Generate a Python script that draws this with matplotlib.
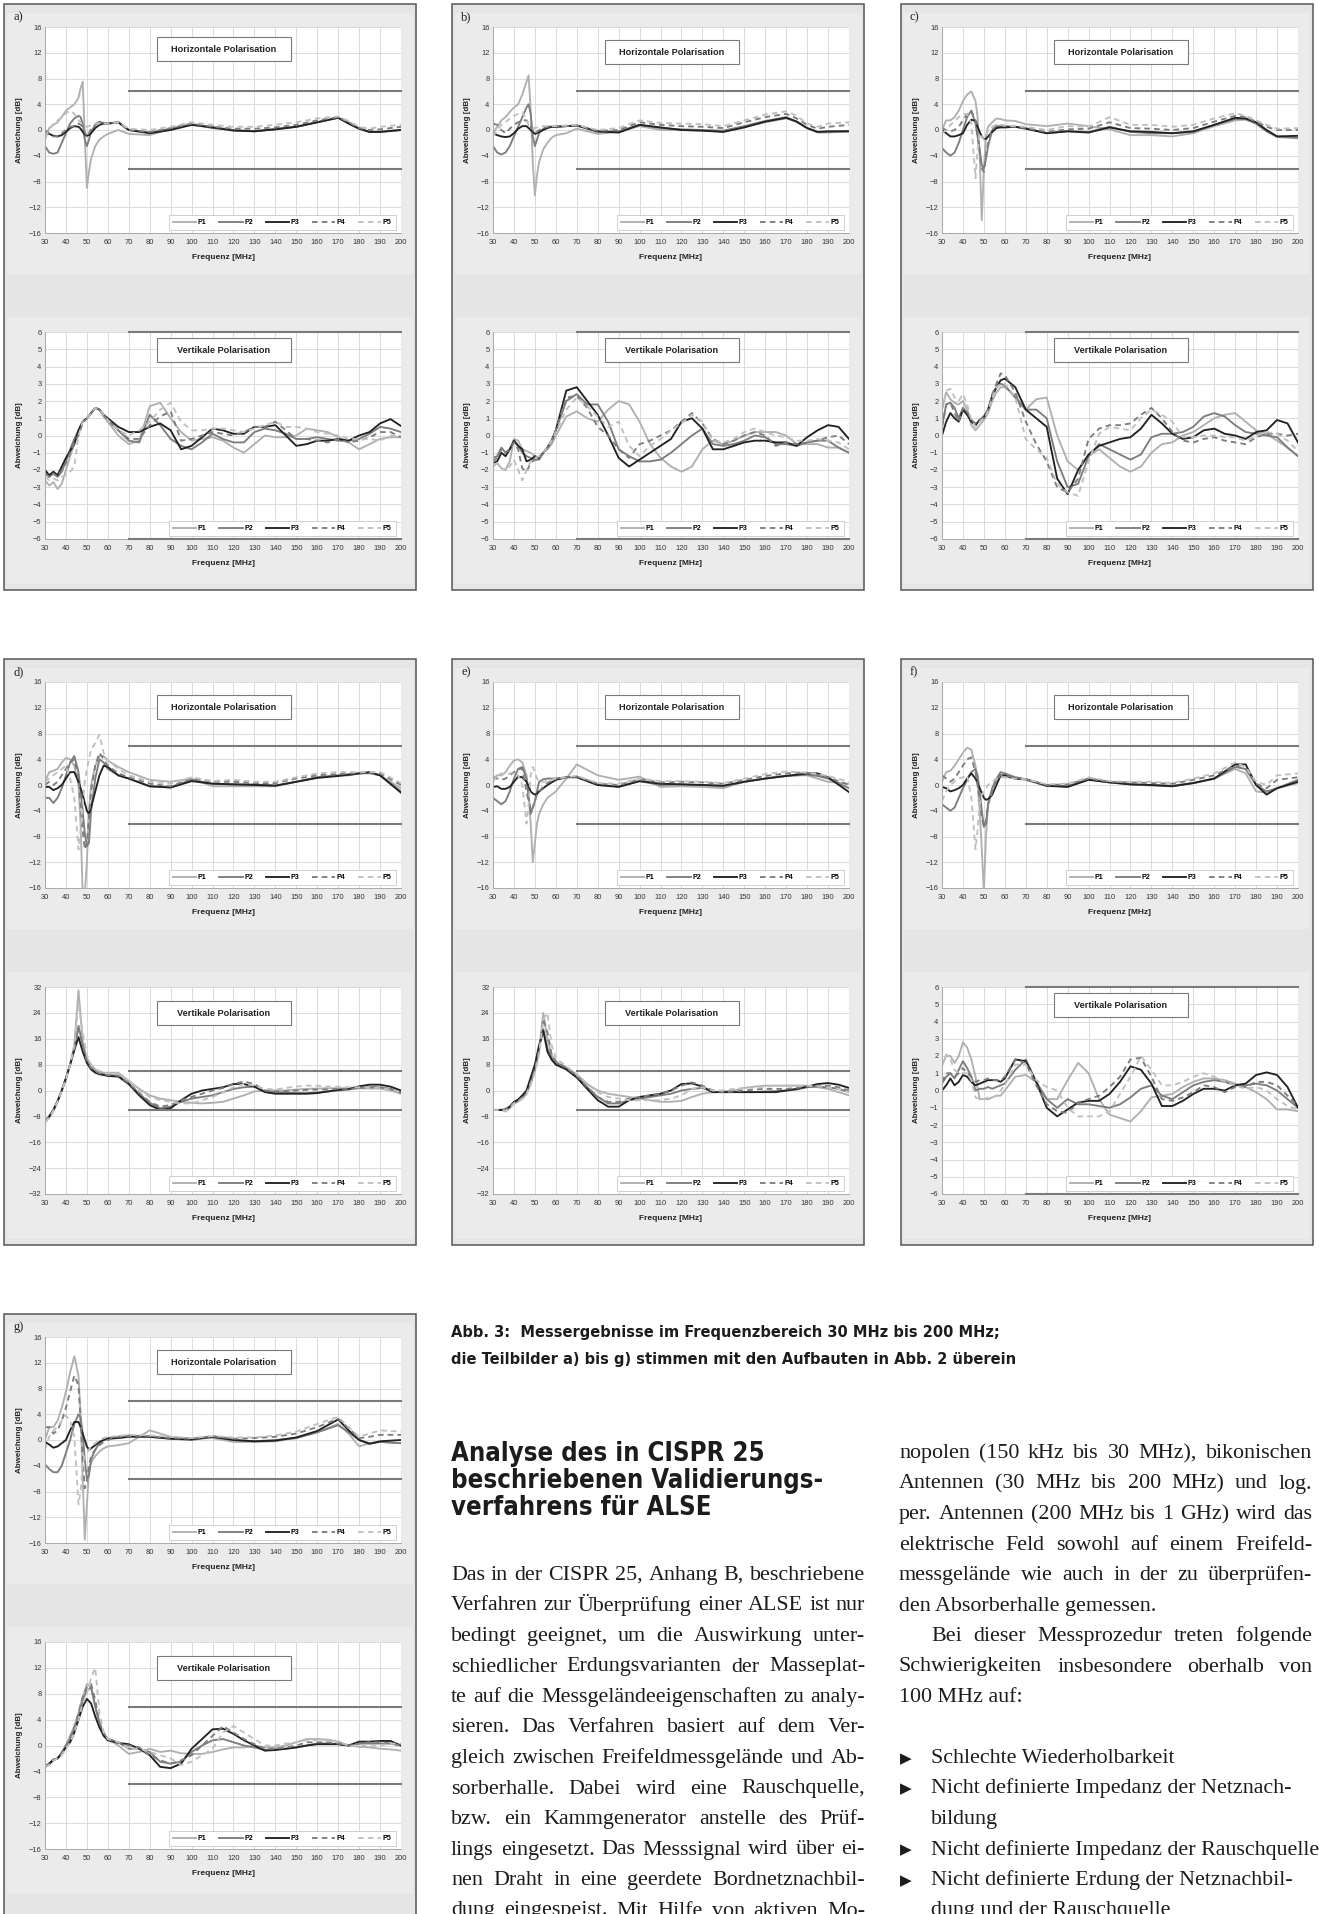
import numpy as np
import matplotlib
matplotlib.use('Agg')
import matplotlib.pyplot as plt
from matplotlib.patches import Rectangle
from matplotlib import font_manager
from matplotlib.font_manager import FontProperties

W, H = 1319, 1914

# frequency grids (MHz)
FH = [30, 32, 34, 36, 38, 40, 42, 44, 46, 47, 48, 49, 50, 51, 52, 54, 56, 58, 60,
      65, 70, 80, 90, 100, 110, 120, 130, 140, 150, 160, 170, 175, 180, 185, 190, 200]
FV = [30, 32, 34, 36, 38, 40, 42, 44, 46, 48, 50, 52, 54, 56, 58, 60,
      65, 70, 75, 80, 85, 90, 95, 100, 105, 110, 115, 120, 125, 130, 135, 140,
      145, 150, 155, 160, 165, 170, 175, 180, 185, 190, 195, 200]

# ---- a) ----
A_H_P1 = [-1.5, 0.3, 0.8, 1.2, 2.0, 3.0, 3.5, 4.0, 5.0, 6.5, 7.5, -1.0, -9.0, -6.5, -4.5, -2.5, -1.5, -1.0, -0.6,
          0.0, -0.6, -0.8, 0.2, 0.8, 0.5, 0.0, -0.2, 0.2, 0.5, 1.2, 1.9, 1.2, 0.3, -0.3, -0.2, 0.0]
A_H_P2 = [-2.5, -3.5, -3.7, -3.5, -2.0, -0.5, 1.0, 1.8, 2.2, 2.0, 1.0, -1.5, -2.5, -1.5, -0.3, 0.8, 1.3, 1.0, 1.0,
          1.2, 0.0, -0.4, 0.2, 0.9, 0.3, 0.0, -0.2, 0.1, 0.5, 1.2, 1.9, 1.0, 0.2, -0.3, -0.3, 0.0]
A_H_P3 = [-0.3, -0.6, -0.9, -1.0, -0.8, -0.3, 0.3, 0.6, 0.5, 0.2, -0.3, -0.7, -0.9, -0.8, -0.5, 0.3, 0.8, 1.0, 1.0,
          1.2, 0.0, -0.5, 0.0, 0.8, 0.4, -0.1, -0.2, 0.1, 0.5, 1.2, 1.9, 1.0, 0.2, -0.3, -0.3, 0.0]
A_H_P4 = [0.0, -0.5, -1.0, -1.0, -0.5, 0.0, 0.5, 0.6, 1.0, 0.8, 0.5, -0.3, -1.0, -0.5, 0.2, 0.8, 1.3, 1.1, 1.1,
          1.1, 0.0, -0.3, 0.3, 1.0, 0.5, 0.2, 0.2, 0.4, 0.8, 1.5, 2.0, 1.2, 0.3, 0.0, 0.1, 0.5]
A_H_P5 = [-1.0, 0.0, 1.0, 1.5, 2.0, 2.6, 3.0, 2.5, 1.5, 1.2, 0.8, 0.6, 0.5, 0.6, 0.8, 1.0, 1.0, 1.0, 1.0,
          1.2, 0.2, 0.0, 0.5, 1.2, 0.8, 0.5, 0.5, 0.8, 1.2, 1.8, 2.1, 1.4, 0.5, 0.2, 0.5, 0.8]

A_V_P1 = [-2.6, -2.9, -2.7, -3.1, -2.8, -2.0, -1.2, -0.5, 0.3, 0.8, 1.0, 1.3, 1.6, 1.5, 1.1, 0.8,
          0.0, -0.5, -0.3, 1.7, 1.9, 1.0, 0.2, -0.3, -0.2, -0.1, -0.3, -0.7, -1.0, -0.5, 0.0, -0.1,
          -0.1, 0.0, 0.4, 0.3, 0.2, -0.1, -0.4, -0.8, -0.5, -0.2, -0.1, -0.1]
A_V_P2 = [-2.1, -2.4, -2.2, -2.4, -2.1, -1.5, -0.8, -0.2, 0.3, 0.8, 1.0, 1.3, 1.6, 1.5, 1.2, 0.9,
          0.3, -0.3, -0.4, 1.2, 0.6, -0.2, -0.6, -0.8, -0.4, 0.1, -0.2, -0.4, -0.4, 0.2, 0.4, 0.3,
          0.1, -0.2, -0.2, -0.1, -0.2, -0.3, -0.3, -0.2, 0.1, 0.5, 0.4, 0.2]
A_V_P3 = [-2.0, -2.3, -2.1, -2.3, -1.8, -1.3, -0.9, -0.5, 0.3, 0.8, 1.0, 1.3, 1.6, 1.5, 1.2, 1.0,
          0.5, 0.2, 0.2, 0.5, 0.7, 0.3, -0.8, -0.6, -0.1, 0.4, 0.3, 0.1, 0.1, 0.5, 0.5, 0.6,
          0.0, -0.6, -0.5, -0.3, -0.3, -0.2, -0.3, 0.0, 0.2, 0.7, 0.95, 0.55]
A_V_P4 = [-2.2, -2.4, -2.2, -2.4, -2.0, -1.6, -1.0, -0.4, 0.0, 0.7, 1.0, 1.3, 1.6, 1.5, 1.2, 0.9,
          0.3, -0.2, -0.2, 0.6, 1.1, 1.4, -0.3, -0.2, 0.0, 0.2, 0.1, 0.0, 0.2, 0.5, 0.5, 0.8,
          0.3, -0.2, -0.2, -0.3, -0.4, -0.2, -0.4, -0.3, -0.1, 0.2, 0.2, -0.1]
A_V_P5 = [-2.4, -2.6, -2.5, -2.6, -2.4, -2.3, -2.1, -1.8, 0.0, 0.8, 1.0, 1.3, 1.6, 1.5, 1.2, 0.9,
          0.3, 0.0, 0.3, 0.8, 1.5, 1.9, 0.8, 0.3, 0.3, 0.4, 0.4, 0.3, 0.2, 0.4, 0.6, 0.8,
          0.5, 0.5, 0.4, 0.2, 0.1, 0.0, -0.2, -0.2, -0.2, -0.3, 0.0, 0.0]

# ---- b) ----
B_H_P1 = [-0.5, 0.5, 1.5, 2.0, 2.8, 3.5, 4.0, 5.5, 7.5, 8.5, 3.0, -5.0, -10.2, -7.0, -5.0, -3.0, -2.0, -1.2, -0.8,
          -0.5, 0.2, -0.6, -0.3, 0.6, 0.0, 0.0, -0.1, -0.2, 0.5, 1.2, 1.8, 1.3, 0.3, -0.4, -0.4, -0.2]
B_H_P2 = [-2.5, -3.5, -3.8, -3.5, -2.5, -1.0, 0.5, 2.0, 3.5, 4.0, 2.5, -1.0, -2.5, -1.5, -0.5, 0.2, 0.5, 0.5, 0.5,
          0.6, 0.7, -0.3, -0.2, 0.8, 0.3, 0.1, 0.0, -0.1, 0.6, 1.4, 2.0, 1.3, 0.3, -0.3, -0.3, -0.2]
B_H_P3 = [-0.5, -0.8, -1.0, -1.1, -1.0, -0.5, 0.2, 0.6, 0.6, 0.3, 0.0, -0.3, -0.6, -0.5, -0.3, 0.0, 0.3, 0.5, 0.5,
          0.6, 0.7, -0.2, -0.4, 0.8, 0.4, 0.0, -0.1, -0.3, 0.4, 1.3, 1.9, 1.3, 0.3, -0.3, -0.2, -0.2]
B_H_P4 = [1.0, 0.8, 0.0, -0.5, 0.2, 0.8, 1.2, 1.5, 1.5, 1.0, 0.5, 0.0, -0.5, -0.3, 0.0, 0.3, 0.5, 0.6, 0.6,
          0.6, 0.7, -0.1, 0.0, 1.2, 0.8, 0.6, 0.5, 0.3, 1.2, 2.0, 2.5, 1.8, 0.8, 0.2, 0.5, 0.8]
B_H_P5 = [-1.0, 0.0, 0.8, 1.2, 1.8, 2.2, 2.5, 2.8, 1.5, 0.8, 0.4, 0.3, 0.3, 0.4, 0.5, 0.6, 0.6, 0.6, 0.6,
          0.7, 0.8, 0.0, 0.3, 1.5, 1.1, 1.0, 0.9, 0.6, 1.5, 2.4, 2.9, 2.2, 1.0, 0.5, 1.0, 1.2]

B_V_P1 = [-1.8, -1.6, -1.9, -2.0, -1.5, -0.2, -0.3, -0.8, -0.9, -1.0, -1.2, -1.3, -1.0, -0.8, -0.5, 0.0,
          1.1, 1.4, 1.0, 0.8, 1.5, 2.0, 1.8, 0.8, -0.5, -1.3, -1.8, -2.1, -1.8, -0.8, -0.3, -0.5,
          -0.3, 0.0, 0.2, 0.2, 0.2, 0.0, -0.5, -0.5, -0.5, -0.7, -0.7, -1.0]
B_V_P2 = [-1.3, -1.2, -0.7, -1.0, -0.8, -0.3, -0.6, -1.0, -1.2, -1.3, -1.4, -1.4, -1.0, -0.7, -0.3, 0.3,
          2.0, 2.4, 1.8, 1.8, 0.8, -0.8, -1.2, -1.5, -1.5, -1.4, -1.0, -0.5, 0.0, 0.4, -0.5, -0.6,
          -0.5, -0.3, 0.0, -0.1, -0.5, -0.5, -0.6, -0.4, -0.3, -0.3, -0.7, -1.0]
B_V_P3 = [-1.6, -1.5, -1.0, -1.2, -0.8, -0.3, -0.6, -0.8, -1.5, -1.4, -1.2, -1.3, -1.0, -0.7, -0.3, 0.3,
          2.6, 2.8, 2.0, 1.2, 0.0, -1.3, -1.8, -1.4, -1.0, -0.6, -0.2, 0.8, 1.0, 0.4, -0.8, -0.8,
          -0.6, -0.4, -0.3, -0.3, -0.4, -0.4, -0.6, -0.1, 0.3, 0.6, 0.5, -0.2]
B_V_P4 = [-1.5, -1.3, -0.8, -1.0, -0.8, -0.4, -0.8, -1.9, -2.1, -1.6, -1.4, -1.4, -1.0, -0.7, -0.3, 0.3,
          2.2, 2.3, 1.6, 0.5, 0.0, -0.8, -1.3, -0.5, -0.3, 0.0, 0.3, 0.8, 1.3, 0.7, -0.2, -0.5,
          -0.3, 0.0, 0.2, 0.0, -0.6, -0.4, -0.5, -0.4, -0.3, -0.1, 0.0, -0.5]
B_V_P5 = [-1.7, -1.6, -1.9, -2.0, -1.8, -1.4, -2.0, -2.6, -2.0, -1.5, -1.3, -1.2, -1.0, -0.7, -0.3, 0.2,
          1.5, 2.2, 1.7, 1.1, 0.5, 0.8, -0.6, -1.2, -0.6, -0.2, 0.3, 0.7, 1.2, 0.8, -0.3, -0.4,
          -0.2, 0.2, 0.4, 0.2, 0.0, -0.1, -0.3, -0.3, -0.2, -0.3, -0.4, -0.8]

# ---- c) ----
C_H_P1 = [0.0, 1.5, 1.5, 2.0, 3.0, 4.5, 5.5, 6.0, 4.5, 2.0, -4.0, -14.0, -6.0, -1.0, 0.5, 1.2, 1.8, 1.7, 1.5,
          1.4, 0.9, 0.6, 1.0, 0.6, 0.1, -0.8, -0.8, -1.0, -0.5, 0.6, 1.5, 1.6, 1.0, -0.2, -1.1, -1.3]
C_H_P2 = [-2.8, -3.5, -4.0, -3.5, -2.0, 0.0, 2.0, 3.0, 1.0, -1.0, -3.0, -5.5, -6.0, -4.5, -2.5, 0.0, 0.6, 0.6, 0.6,
          0.5, 0.3, -0.5, -0.2, -0.3, 0.5, -0.3, -0.5, -0.5, -0.3, 0.8, 1.7, 1.7, 1.0, -0.2, -1.0, -1.2]
C_H_P3 = [0.0, -0.5, -1.0, -1.0, -0.8, -0.5, 0.8, 1.6, 1.4, 0.5, -0.3, -1.0, -1.4, -1.4, -1.0, -0.3, 0.3, 0.4, 0.4,
          0.5, 0.2, -0.5, -0.2, -0.4, 0.4, -0.2, -0.3, -0.5, -0.2, 0.8, 1.9, 1.8, 1.2, 0.0, -1.0, -0.9]
C_H_P4 = [0.3, 0.0, -0.2, 0.0, 0.5, 1.5, 2.5, 3.0, 1.5, -1.0, -3.5, -6.0, -6.5, -4.0, -2.0, 0.0, 0.8, 0.8, 0.6,
          0.5, 0.3, -0.3, 0.1, 0.2, 1.2, 0.3, 0.2, 0.0, 0.3, 1.3, 2.2, 2.0, 1.3, 0.5, 0.0, 0.0]
C_H_P5 = [-0.5, 0.0, 0.8, 1.3, 2.0, 2.5, 2.5, 1.0, -7.5, -3.0, -0.5, -1.0, -1.5, -1.0, 0.0, 0.5, 0.8, 0.8, 0.7,
          0.6, 0.5, 0.0, 0.6, 0.5, 2.0, 0.8, 0.8, 0.5, 0.8, 1.8, 2.6, 2.2, 1.5, 0.8, 0.2, 0.3]

C_V_P1 = [1.5, 2.5, 2.1, 1.9, 1.8, 2.0, 1.5, 0.6, 0.3, 0.6, 0.9, 1.3, 2.0, 2.5, 2.8, 2.8,
          2.3, 1.5, 2.1, 2.2, 0.0, -1.5, -2.0, -1.2, -0.8, -1.3, -1.8, -2.1, -1.8, -1.0, -0.5, -0.4,
          0.0, 0.2, 0.6, 1.0, 1.2, 1.3, 0.8, 0.3, 0.1, -0.3, -0.7, -1.2]
C_V_P2 = [0.5, 1.8, 1.9, 1.6, 1.0, 1.6, 1.3, 0.9, 0.6, 0.9, 1.0, 1.5, 2.3, 2.8, 3.0, 2.9,
          2.2, 1.5, 1.5, 1.0, -1.5, -3.0, -2.8, -1.2, -0.5, -0.8, -1.1, -1.4, -1.1, -0.1, 0.1, 0.1,
          0.2, 0.5, 1.1, 1.3, 1.1, 0.6, 0.2, 0.1, 0.0, -0.1, -0.7, -1.2]
C_V_P3 = [0.0, 0.8, 1.3, 1.0, 0.8, 1.5, 1.2, 0.8, 0.6, 0.9, 1.1, 1.5, 2.3, 2.8, 3.2, 3.3,
          2.8, 1.5, 1.0, 0.5, -2.5, -3.4, -2.0, -1.1, -0.6, -0.4, -0.2, -0.1, 0.4, 1.2, 0.7, 0.1,
          -0.2, -0.1, 0.3, 0.4, 0.1, 0.0, -0.2, 0.2, 0.3, 0.9, 0.7, -0.4]
C_V_P4 = [0.5, 1.8, 1.9, 1.3, 0.8, 1.6, 1.4, 0.9, 0.7, 0.9, 1.1, 1.5, 2.4, 3.0, 3.6, 3.5,
          2.5, 0.8, -0.5, -1.5, -3.0, -3.3, -2.5, -0.2, 0.4, 0.6, 0.6, 0.7, 1.2, 1.6, 1.0, 0.2,
          -0.3, -0.4, -0.2, -0.1, -0.3, -0.4, -0.5, -0.1, 0.1, 0.1, 0.0, 0.1]
C_V_P5 = [1.5, 2.6, 2.7, 2.2, 2.0, 2.4, 1.8, 0.9, 0.5, 0.8, 1.0, 1.4, 2.2, 2.8, 3.0, 3.0,
          2.2, -0.2, -0.8, -1.3, -2.8, -3.3, -3.5, -1.5, 0.1, 0.5, 0.4, 0.3, 1.0, 1.5, 1.2, 0.8,
          -0.1, -0.1, 0.0, 0.0, -0.1, -0.1, -0.3, 0.0, 0.2, 0.1, -0.3, -0.9]

# ---- d) ----
D_H_P1 = [0.5, 2.0, 2.2, 2.5, 3.5, 4.2, 4.0, 3.0, 0.0, -6.0, -17.0, -17.0, -12.0, -4.0, 0.0, 3.0, 4.5, 4.5, 3.8,
          2.8, 2.0, 0.8, 0.5, 1.0, -0.2, -0.2, -0.2, -0.2, 0.5, 1.2, 1.5, 1.7, 1.8, 1.8, 1.5, -0.5]
D_H_P2 = [-2.0, -2.0, -2.8, -2.0, -0.5, 1.5, 3.5, 4.5, 2.0, -1.0, -4.0, -7.5, -9.5, -9.0, -4.0, 1.0, 4.0, 3.5, 2.5,
          1.5, 1.0, -0.2, -0.3, 0.8, 0.2, 0.1, 0.1, -0.1, 0.5, 1.2, 1.5, 1.5, 1.8, 1.9, 1.5, -1.0]
D_H_P3 = [-0.3, -0.3, -0.8, -0.5, 0.0, 1.0, 2.0, 2.0, 0.5, -0.5, -1.5, -2.8, -4.0, -4.5, -3.5, -1.0, 1.5, 3.0, 2.8,
          1.5, 1.0, -0.2, -0.4, 0.6, 0.2, 0.1, 0.0, -0.1, 0.5, 1.1, 1.4, 1.6, 1.8, 2.0, 1.5, -1.2]
D_H_P4 = [0.0, 0.5, 0.0, 0.5, 1.5, 2.5, 3.5, 4.0, 1.0, -3.0, -7.0, -10.0, -9.0, -5.0, -1.0, 3.0, 5.0, 4.0, 3.0,
          1.8, 1.2, 0.2, -0.2, 1.0, 0.5, 0.5, 0.3, 0.3, 1.0, 1.5, 1.7, 1.8, 1.9, 2.0, 1.8, 0.0]
D_H_P5 = [0.5, 1.0, 1.5, 2.0, 2.5, 3.0, 1.0, -2.0, -10.0, -7.0, -3.0, 0.5, 2.5, 4.0, 5.5, 6.5, 7.8, 5.0, 3.8,
          2.5, 1.5, 0.5, 0.2, 1.2, 0.6, 0.8, 0.5, 0.5, 1.2, 1.8, 2.0, 2.0, 2.0, 2.0, 2.0, 0.3]

D_V_P1 = [-9.8, -8.5, -6.5, -3.5, 0.0, 3.5, 8.0, 14.0, 31.0, 15.0, 10.0, 8.0, 6.5, 6.0, 5.5, 5.5,
          5.5, 3.0, 0.5, -1.5, -2.5, -3.0, -3.5, -3.8, -4.0, -3.8, -3.5, -2.5, -1.5, -0.3, 0.0, 0.0,
          0.0, 0.3, 0.5, 0.6, 0.7, 0.7, 0.7, 0.7, 0.6, 0.6, 0.0, -1.0]
D_V_P2 = [-9.5, -8.0, -6.0, -3.3, 0.0, 3.8, 8.0, 13.0, 20.0, 14.0, 9.0, 7.0, 6.0, 5.2, 5.0, 4.8,
          4.6, 2.2, -1.0, -3.8, -5.5, -5.0, -3.5, -2.5, -2.0, -1.5, -0.5, 0.5, 1.0, 1.2, -0.3, -0.5,
          -0.7, -0.8, -0.8, -0.6, -0.3, 0.0, 0.3, 0.8, 1.0, 1.0, 0.5, -0.5]
D_V_P3 = [-9.5, -8.0, -6.0, -3.3, 0.0, 3.8, 8.0, 12.5, 16.5, 12.0, 8.5, 6.5, 5.5, 5.0, 4.8, 4.5,
          4.3, 2.0, -1.5, -4.5, -6.0, -5.5, -3.0, -1.0, 0.0, 0.5, 1.0, 2.0, 2.0, 1.2, -0.5, -1.0,
          -1.0, -1.0, -1.0, -0.8, -0.3, 0.2, 0.5, 1.3, 1.8, 1.8, 1.2, 0.0]
D_V_P4 = [-9.5, -8.0, -6.0, -3.3, 0.0, 3.8, 8.0, 13.0, 19.0, 14.0, 9.0, 7.0, 6.0, 5.3, 5.0, 4.8,
          4.6, 2.3, -0.8, -3.5, -5.0, -4.5, -3.0, -2.0, -1.0, 0.0, 0.8, 2.0, 2.8, 2.0, 0.0, -0.3,
          -0.2, 0.0, 0.2, 0.3, 0.3, 0.5, 0.5, 0.8, 1.0, 1.0, 0.5, -0.8]
D_V_P5 = [-9.8, -8.3, -6.3, -3.5, 0.0, 3.5, 8.0, 14.0, 27.0, 18.0, 11.0, 8.0, 6.5, 6.0, 5.5, 5.3,
          5.2, 3.0, 0.0, -2.0, -3.0, -3.5, -4.0, -4.0, -3.0, -2.0, -0.5, 1.0, 2.0, 1.5, 0.5, 0.3,
          0.8, 1.2, 1.5, 1.5, 1.2, 1.2, 1.0, 1.0, 0.8, 0.8, 0.3, -0.5]

# ---- e) ----
E_H_P1 = [1.0, 1.5, 1.5, 2.0, 3.0, 3.8, 4.0, 3.5, 1.5, -1.0, -6.0, -12.0, -9.0, -6.0, -4.5, -3.0, -2.0, -1.5, -1.0,
          1.0, 3.2, 1.5, 0.8, 1.3, -0.3, -0.2, -0.3, -0.5, 0.5, 1.0, 1.5, 1.5, 1.5, 1.0, 0.5, 0.2]
E_H_P2 = [-2.0, -2.5, -3.0, -2.5, -1.0, 1.0, 2.5, 2.8, 1.0, -2.0, -4.5, -3.5, -2.5, -1.0, 0.5, 0.9, 1.0, 1.0, 1.0,
          1.2, 1.3, 0.0, -0.2, 0.6, 0.0, 0.1, 0.0, -0.2, 0.5, 1.0, 1.4, 1.5, 1.6, 1.4, 1.0, -0.5]
E_H_P3 = [-0.3, -0.2, -0.6, -0.6, -0.3, 0.5, 1.3, 1.2, 0.5, -0.2, -1.0, -1.3, -1.5, -1.4, -1.0, -0.5, 0.0, 0.4, 0.8,
          1.2, 1.2, 0.0, -0.3, 0.6, 0.2, 0.1, 0.0, -0.1, 0.5, 1.0, 1.4, 1.6, 1.8, 1.8, 1.2, -1.1]
E_H_P4 = [1.2, 1.0, 0.8, 1.0, 1.5, 2.0, 2.5, 2.5, -1.0, -2.5, -4.0, -3.5, -2.5, -1.5, -1.0, -0.3, 0.3, 0.7, 1.0,
          1.2, 1.3, 0.2, 0.0, 0.9, 0.4, 0.5, 0.4, 0.2, 0.8, 1.4, 1.8, 1.9, 1.9, 1.6, 1.2, 0.0]
E_H_P5 = [0.5, 1.5, 1.8, 1.5, 1.8, 2.0, 1.5, 0.0, -6.0, -3.0, 1.5, 2.8, 2.0, 1.0, 0.5, 0.5, 0.6, 0.8, 1.0,
          1.2, 1.4, 0.3, 0.2, 1.0, 0.6, 0.6, 0.5, 0.3, 1.0, 1.7, 2.1, 2.0, 1.9, 1.7, 1.4, 0.5]

E_V_P1 = [-6.0, -6.0, -6.0, -6.5, -5.5, -4.0, -3.5, -2.5, -1.0, 2.0, 6.0, 12.0, 24.0, 16.0, 11.0, 9.0,
          7.0, 5.0, 2.0, 0.0, -1.0, -1.5, -2.0, -2.5, -3.0, -3.5, -3.5, -3.2, -2.0, -1.0, -0.5, -0.3,
          0.0, 0.8, 1.2, 1.5, 1.5, 1.5, 1.5, 1.5, 1.0, 0.5, -0.5, -1.5]
E_V_P2 = [-6.0, -6.0, -6.0, -6.0, -5.0, -3.8, -3.0, -2.0, -0.5, 3.0, 7.0, 13.0, 19.0, 13.0, 10.0, 8.5,
          7.0, 4.5, 1.0, -2.0, -4.0, -4.0, -3.0, -2.5, -2.0, -1.5, -1.0, 0.0, 0.5, 0.8, -0.5, -0.5,
          -0.5, -0.5, -0.5, -0.3, -0.2, 0.0, 0.3, 1.0, 1.2, 1.0, 0.5, -0.5]
E_V_P3 = [-6.0, -6.0, -6.0, -5.8, -5.0, -3.5, -2.8, -1.5, 0.0, 4.0, 8.0, 14.0, 18.5, 12.0, 9.5, 8.0,
          6.5, 4.0, 0.5, -3.0, -5.0, -5.0, -3.0, -2.0, -1.5, -1.0, 0.0, 2.0, 2.2, 1.2, -0.5, -0.5,
          -0.5, -0.5, -0.5, -0.5, -0.5, 0.0, 0.5, 1.2, 2.0, 2.3, 1.8, 0.8]
E_V_P4 = [-6.0, -6.0, -6.0, -6.0, -5.2, -3.8, -3.2, -2.2, -0.8, 2.5, 6.5, 12.5, 22.0, 18.0, 11.0, 9.0,
          7.0, 4.5, 1.0, -2.0, -3.5, -3.5, -2.5, -2.0, -1.5, -1.0, 0.0, 1.5, 2.5, 1.5, 0.0, -0.5,
          -0.3, 0.0, 0.3, 0.5, 0.5, 0.5, 0.8, 1.2, 1.5, 1.5, 1.0, 0.0]
E_V_P5 = [-6.0, -6.0, -6.0, -6.3, -5.5, -4.0, -3.5, -2.5, -1.2, 2.0, 5.5, 11.0, 22.0, 24.0, 14.0, 10.0,
          7.5, 5.0, 2.0, -0.5, -2.0, -2.5, -3.0, -3.0, -3.0, -3.0, -2.5, -1.5, 0.5, 1.0, 0.0, 0.0,
          0.5, 0.8, 1.0, 1.2, 1.5, 1.5, 1.5, 1.5, 1.3, 1.0, 0.5, -0.5]

# ---- f) ----
F_H_P1 = [0.5, 2.0, 2.2, 3.0, 4.0, 5.0, 5.8, 5.5, 3.0, 0.0, -4.0, -10.0, -16.5, -8.0, -3.0, -0.5, 0.8, 1.3, 1.3,
          1.0, 0.8, -0.2, -0.2, 1.0, 0.5, 0.1, -0.1, -0.2, 0.3, 1.0, 2.5, 1.8, -1.0, -1.2, -0.5, 0.3]
F_H_P2 = [-3.0, -3.5, -4.0, -3.5, -2.0, -0.5, 0.8, 2.0, 2.5, 1.5, -1.0, -4.0, -6.5, -6.0, -3.0, -0.5, 1.0, 2.0, 1.8,
          1.2, 0.9, -0.1, -0.2, 0.9, 0.4, 0.1, 0.0, -0.1, 0.3, 1.0, 2.8, 2.5, 0.0, -1.0, -0.5, 0.8]
F_H_P3 = [-0.3, -0.5, -1.0, -0.8, -0.5, 0.0, 1.0, 1.8, 1.0, 0.3, -0.5, -1.2, -2.0, -2.3, -2.2, -1.5, 0.0, 1.5, 1.5,
          1.0, 0.9, -0.1, -0.3, 0.8, 0.4, 0.1, 0.0, -0.2, 0.3, 1.0, 3.2, 3.2, 0.0, -1.5, -0.5, 0.5]
F_H_P4 = [1.5, 1.0, 0.5, 1.0, 2.0, 3.0, 4.0, 4.3, 2.0, 0.0, -2.5, -5.0, -6.5, -5.5, -3.0, -1.0, 0.8, 1.5, 1.5,
          1.2, 0.9, 0.0, 0.1, 1.0, 0.5, 0.4, 0.3, 0.2, 0.8, 1.5, 3.0, 2.5, 0.2, -0.5, 0.8, 1.2]
F_H_P5 = [-2.5, -1.0, 0.0, 0.5, 1.0, 1.2, 1.5, -2.0, -10.0, -7.0, -3.0, -1.5, -1.0, -0.5, 0.0, 0.5, 1.0, 1.2, 1.2,
          1.0, 0.9, 0.1, 0.2, 1.2, 0.6, 0.5, 0.5, 0.3, 1.0, 1.8, 3.5, 2.8, 0.5, 0.0, 1.5, 1.8]

F_V_P1 = [1.5, 2.0, 2.0, 1.6, 2.0, 2.8, 2.5, 1.8, 0.8, -0.5, -0.5, -0.5, -0.4, -0.3, -0.3, 0.0,
          0.8, 0.9, 0.5, -0.5, -0.5, 0.6, 1.6, 1.0, -0.5, -1.4, -1.6, -1.8, -1.2, -0.4, -0.3, -0.2,
          0.2, 0.5, 0.7, 0.7, 0.6, 0.4, 0.2, -0.1, -0.5, -1.1, -1.1, -1.2]
F_V_P2 = [0.4, 0.8, 1.0, 0.7, 1.2, 1.7, 1.3, 0.8, 0.0, 0.1, 0.1, 0.2, 0.1, 0.2, 0.3, 0.4,
          1.2, 1.8, 0.5, -0.5, -1.0, -0.5, -0.8, -0.8, -0.9, -1.0, -0.8, -0.4, 0.1, 0.3, -0.3, -0.5,
          -0.1, 0.3, 0.5, 0.6, 0.5, 0.3, 0.3, 0.4, 0.3, 0.0, -0.5, -1.0]
F_V_P3 = [0.0, 0.3, 0.7, 0.3, 0.5, 0.9, 0.8, 0.5, 0.3, 0.4, 0.5, 0.6, 0.6, 0.6, 0.5, 0.7,
          1.8, 1.7, 0.5, -1.0, -1.5, -1.1, -0.7, -0.6, -0.6, -0.2, 0.5, 1.4, 1.2, 0.4, -0.9, -0.9,
          -0.6, -0.2, 0.1, 0.1, 0.0, 0.3, 0.4, 0.9, 1.05, 0.9, 0.2, -1.0]
F_V_P4 = [0.5, 1.0, 1.0, 0.8, 1.0, 1.3, 1.0, 0.8, 0.5, 0.6, 0.6, 0.7, 0.6, 0.6, 0.6, 0.8,
          1.8, 1.6, 0.3, -0.8, -1.2, -1.3, -0.7, -0.5, -0.3, 0.2, 0.8, 1.8, 1.9, 0.8, -0.5, -0.6,
          -0.4, -0.1, 0.3, 0.2, -0.1, 0.2, 0.2, 0.5, 0.5, 0.3, -0.3, -0.9]
F_V_P5 = [1.4, 2.1, 1.8, 1.2, 1.0, 1.0, 1.0, 0.6, -0.4, -0.5, -0.5, -0.4, -0.4, -0.3, 0.0, 0.3,
          1.5, 1.5, 0.6, 0.2, 0.0, -1.0, -1.5, -1.5, -1.5, -1.2, -0.2, 0.8, 2.0, 1.2, 0.3, 0.3,
          0.5, 0.8, 1.0, 0.8, 0.5, 0.3, 0.1, 0.2, 0.0, -0.5, -0.9, -1.1]

# ---- g) ----
G_H_P1 = [0.0, 2.0, 2.0, 3.0, 5.0, 7.5, 10.5, 13.0, 10.0, 4.0, -6.0, -15.5, -10.0, -5.0, -3.5, -2.5, -1.8, -1.3, -1.0,
          -0.8, -0.5, 1.5, 0.5, 0.2, 0.3, -0.3, -0.3, -0.2, 0.3, 1.2, 2.5, 1.0, -1.0, -0.5, -0.3, -0.5]
G_H_P2 = [-3.8, -4.5, -5.0, -5.0, -4.0, -2.0, 0.0, 2.5, 4.0, 3.5, 1.0, -3.0, -6.0, -5.5, -3.0, -1.5, -0.5, 0.0, 0.3,
          0.5, 0.7, 0.5, 0.2, 0.0, 0.5, 0.0, -0.2, 0.0, 0.3, 1.2, 2.3, 1.2, 0.0, -0.5, -0.3, -0.5]
G_H_P3 = [-0.3, -0.7, -1.2, -1.0, -0.5, 0.0, 1.5, 2.8, 2.8, 2.0, 1.0, 0.0, -1.0, -1.5, -1.3, -0.8, -0.3, 0.0, 0.2,
          0.3, 0.5, 0.5, 0.2, 0.1, 0.5, 0.0, -0.2, -0.1, 0.4, 1.4, 3.2, 1.5, 0.0, -0.6, -0.2, 0.0]
G_H_P4 = [2.0, 2.0, 1.0, 1.5, 3.0, 5.0, 7.5, 10.0, 8.5, 3.0, -3.0, -7.5, -6.5, -4.0, -2.5, -1.5, -0.8, -0.3, 0.0,
          0.5, 0.6, 0.6, 0.3, 0.2, 0.6, 0.2, 0.3, 0.5, 1.0, 2.0, 3.3, 1.8, 0.3, 0.5, 0.8, 0.8]
G_H_P5 = [-1.5, 0.5, 1.5, 2.0, 3.0, 3.8, 3.0, 0.5, -10.0, -8.0, -4.0, -2.5, -2.0, -1.5, -1.0, -0.5, 0.0, 0.3, 0.5,
          0.6, 0.8, 0.7, 0.5, 0.3, 0.6, 0.4, 0.4, 0.7, 1.3, 2.5, 3.6, 2.0, 0.5, 1.0, 1.5, 1.3]

G_V_P1 = [-3.3, -3.0, -2.3, -2.0, -1.0, 0.0, 1.5, 3.0, 5.0, 7.5, 9.5, 9.0, 6.0, 3.5, 1.8, 1.0,
          0.0, -1.3, -1.0, -0.5, -1.0, -0.8, -1.2, -1.3, -1.3, -1.0, -0.6, -0.3, -0.3, 0.0, -0.3, -0.3,
          0.0, 0.5, 1.0, 1.0, 0.9, 0.6, 0.0, -0.2, -0.3, -0.5, -0.6, -0.8]
G_V_P2 = [-3.3, -2.8, -2.2, -2.0, -1.2, 0.0, 1.0, 2.5, 4.5, 7.0, 8.5, 9.0, 6.0, 3.5, 1.8, 1.0,
          0.5, -0.5, -0.5, -1.0, -2.5, -2.8, -2.5, -1.0, 0.0, 0.8, 1.0, 0.5, 0.0, -0.3, -0.7, -0.6,
          -0.5, -0.3, 0.0, 0.3, 0.3, 0.2, 0.0, 0.3, 0.3, 0.3, 0.3, 0.0]
G_V_P3 = [-3.3, -2.8, -2.2, -2.0, -1.2, -0.3, 0.5, 2.0, 4.0, 6.0, 7.2, 6.5, 4.5, 2.8, 1.5, 0.8,
          0.4, 0.2, -0.5, -1.5, -3.3, -3.5, -2.8, -0.5, 1.0, 2.5, 2.6, 1.8, 0.8, 0.0, -0.8, -0.7,
          -0.5, -0.3, 0.0, 0.2, 0.2, 0.2, 0.0, 0.6, 0.6, 0.7, 0.7, 0.0]
G_V_P4 = [-3.3, -2.9, -2.3, -2.0, -1.2, 0.0, 1.2, 2.8, 5.0, 7.5, 9.0, 9.5, 7.0, 3.5, 2.0, 1.0,
          0.5, 0.0, -0.3, -1.5, -2.3, -2.8, -2.3, -1.5, 0.0, 1.5, 3.0, 2.0, 1.0, 0.2, -0.5, -0.5,
          -0.3, 0.0, 0.5, 0.5, 0.5, 0.3, 0.0, 0.3, 0.5, 0.5, 0.3, 0.0]
G_V_P5 = [-3.3, -3.0, -2.3, -2.0, -1.5, -0.5, 0.5, 2.0, 4.0, 6.5, 8.0, 10.5, 12.0, 5.0, 2.0, 1.0,
          0.5, -0.5, -0.5, -1.0, -1.5, -2.0, -3.0, -2.5, -1.5, -0.5, 2.0, 3.0, 2.0, 1.0, 0.0, 0.0,
          0.3, 0.5, 0.8, 0.8, 0.8, 0.5, 0.0, 0.0, 0.0, 0.0, 0.3, 0.3]

SERIES = ['P1', 'P2', 'P3', 'P4', 'P5']

CAPTION = ['Abb. 3:  Messergebnisse im Frequenzbereich 30 MHz bis 200 MHz;',
           'die Teilbilder a) bis g) stimmen mit den Aufbauten in Abb. 2 überein']
HEADING = ['Analyse des in CISPR 25', 'beschriebenen Validierungs-', 'verfahrens für ALSE']
LEFT_COL = ['Das in der CISPR 25, Anhang B, beschriebene',
            'Verfahren zur Überprüfung einer ALSE ist nur',
            'bedingt geeignet, um die Auswirkung unter-',
            'schiedlicher Erdungsvarianten der Masseplat-',
            'te auf die Messgeländeeigenschaften zu analy-',
            'sieren. Das Verfahren basiert auf dem Ver-',
            'gleich zwischen Freifeldmessgelände und Ab-',
            'sorberhalle. Dabei wird eine Rauschquelle,',
            'bzw. ein Kammgenerator anstelle des Prüf-',
            'lings eingesetzt. Das Messsignal wird über ei-',
            'nen Draht in eine geerdete Bordnetznachbil-',
            'dung eingespeist. Mit Hilfe von aktiven Mo-']
# (line index, text, kind)  kind: J justified, L left, I indented+justified, B bullet, C continuation
RIGHT_COL = [(0, 'nopolen (150 kHz bis 30 MHz), bikonischen', 'J'),
             (1, 'Antennen (30 MHz bis 200 MHz) und log.', 'J'),
             (2, 'per. Antennen (200 MHz bis 1 GHz) wird das', 'J'),
             (3, 'elektrische Feld sowohl auf einem Freifeld-', 'J'),
             (4, 'messgelände wie auch in der zu überprüfen-', 'J'),
             (5, 'den Absorberhalle gemessen.', 'L'),
             (6, 'Bei dieser Messprozedur treten folgende', 'I'),
             (7, 'Schwierigkeiten insbesondere oberhalb von', 'J'),
             (8, '100 MHz auf:', 'L'),
             (10, 'Schlechte Wiederholbarkeit', 'B'),
             (11, 'Nicht definierte Impedanz der Netznach-', 'B'),
             (12, 'bildung', 'C'),
             (13, 'Nicht definierte Impedanz der Rauschquelle', 'B'),
             (14, 'Nicht definierte Erdung der Netznachbil-', 'B'),
             (15, 'dung und der Rauschquelle', 'C')]

# line styles of the five positions
STYLES = [dict(color='#b0b0b0', lw=1.35, ls='-'),
          dict(color='#7d7d7d', lw=1.35, ls='-'),
          dict(color='#222222', lw=1.35, ls='-'),
          dict(color='#7d7d7d', lw=1.35, dashes=(3.0, 2.2)),
          dict(color='#c0c0c0', lw=1.35, dashes=(3.0, 2.2))]

SANS = 'Liberation Sans'
SERIF = 'Liberation Serif'


def condensed_bold():
    # a condensed / narrow bold face for caption and heading, if one is installed
    best, best_score = None, -1
    for f in font_manager.fontManager.ttflist:
        n = f.name.lower()
        st = str(f.stretch).lower()
        if f.style != 'normal' or 'cjk' in n or 'mono' in n:
            continue
        cond = ('narrow' in n or 'condensed' in n or 'condensed' in st)
        if not cond:
            continue
        try:
            wt = int(f.weight)
        except (TypeError, ValueError):
            wt = 700 if 'bold' in str(f.weight) else 400
        score = 10 - abs(wt - 700) / 100
        if 'liberation' in n:
            score += 5
        if score > best_score:
            best, best_score = f.fname, score
    if best:
        return FontProperties(fname=best)
    return FontProperties(family=SANS, weight='bold')


fig = plt.figure(figsize=(W / 100, H / 100), dpi=100)
fig.patch.set_facecolor('white')
renderer = fig.canvas.get_renderer()


def frect(x, y, w, h):
    return [x / W, 1 - (y + h) / H, w / W, h / H]


def add_box(x, y, w, h, fc, ec='none', lw=0, z=-2):
    fig.add_artist(Rectangle((x / W, 1 - (y + h) / H), w / W, h / H, transform=fig.transFigure,
                             facecolor=fc, edgecolor=ec, lw=lw, zorder=z))


def draw_chart(ax, freqs, series, ylim, ystep, title, box_top):
    ax.set_facecolor('white')
    handles = []
    for vals, st, name in zip(series, STYLES, SERIES):
        ln, = ax.plot(freqs, vals, label=name, **st)
        handles.append(ln)
    for lim in (6, -6):
        ax.plot([70, 200], [lim, lim], color='#7a7a7a', lw=1.5, clip_on=False, zorder=3)
    ax.set_xlim(30, 200)
    ax.set_ylim(-ylim, ylim)
    ax.set_xticks(range(30, 201, 10))
    ax.set_yticks(np.arange(-ylim, ylim + 0.1, ystep))
    ax.grid(True, color='#d6d6d6', lw=0.6)
    ax.set_axisbelow(True)
    for side in ('top', 'right'):
        ax.spines[side].set_visible(False)
    for side in ('left', 'bottom'):
        ax.spines[side].set_color('#a8a8a8')
        ax.spines[side].set_linewidth(0.7)
    ax.tick_params(length=0, labelsize=5.4, labelcolor='#333333')
    ax.tick_params(axis='x', pad=4.0)
    ax.tick_params(axis='y', pad=2.5)
    for lab in ax.get_xticklabels() + ax.get_yticklabels():
        lab.set_family(SANS)
    ax.set_xlabel('Frequenz [MHz]', fontsize=6.0, fontweight='bold', family=SANS, color='#222222')
    ax.set_ylabel('Abweichung [dB]', fontsize=5.8, fontweight='bold', family=SANS, color='#222222')
    ax.xaxis.set_label_coords(0.5, -0.1)
    ax.yaxis.set_label_coords(-0.062, 0.5)
    ax.add_patch(Rectangle((0.315, 1 - box_top - 0.118), 0.375, 0.118, transform=ax.transAxes,
                           facecolor='white', edgecolor='#7a7a7a', lw=0.8, zorder=6))
    ax.text(0.5025, 1 - box_top - 0.059, title, transform=ax.transAxes, ha='center', va='center',
            fontsize=6.6, fontweight='bold', family=SANS, color='#222222', zorder=7)
    leg = ax.legend(handles=handles, ncol=5, loc='lower right', bbox_to_anchor=(0.985, 0.014),
                    prop=dict(family=SANS, weight='bold', size=5.1), frameon=True, fancybox=False,
                    edgecolor='#c8c8c8', framealpha=1, handlelength=3.3, handletextpad=0.2,
                    columnspacing=1.8, borderpad=0.55, borderaxespad=0)
    leg.get_frame().set_linewidth(0.6)
    leg.set_zorder(8)


A_H = [A_H_P1, A_H_P2, A_H_P3, A_H_P4, A_H_P5]
A_V = [A_V_P1, A_V_P2, A_V_P3, A_V_P4, A_V_P5]
B_H = [B_H_P1, B_H_P2, B_H_P3, B_H_P4, B_H_P5]
B_V = [B_V_P1, B_V_P2, B_V_P3, B_V_P4, B_V_P5]
C_H = [C_H_P1, C_H_P2, C_H_P3, C_H_P4, C_H_P5]
C_V = [C_V_P1, C_V_P2, C_V_P3, C_V_P4, C_V_P5]
D_H = [D_H_P1, D_H_P2, D_H_P3, D_H_P4, D_H_P5]
D_V = [D_V_P1, D_V_P2, D_V_P3, D_V_P4, D_V_P5]
E_H = [E_H_P1, E_H_P2, E_H_P3, E_H_P4, E_H_P5]
E_V = [E_V_P1, E_V_P2, E_V_P3, E_V_P4, E_V_P5]
F_H = [F_H_P1, F_H_P2, F_H_P3, F_H_P4, F_H_P5]
F_V = [F_V_P1, F_V_P2, F_V_P3, F_V_P4, F_V_P5]
G_H = [G_H_P1, G_H_P2, G_H_P3, G_H_P4, G_H_P5]
G_V = [G_V_P1, G_V_P2, G_V_P3, G_V_P4, G_V_P5]

# label, panel x, panel y, panel height, horizontal data, vertical data, vertical y-limit, step
PANELS = [('a)', 4, 4, 586, A_H, A_V, 6, 1),
          ('b)', 452, 4, 586, B_H, B_V, 6, 1),
          ('c)', 901, 4, 586, C_H, C_V, 6, 1),
          ('d)', 4, 659, 586, D_H, D_V, 32, 8),
          ('e)', 452, 659, 586, E_H, E_V, 32, 8),
          ('f)', 901, 659, 586, F_H, F_V, 6, 1),
          ('g)', 4, 1314, 640, G_H, G_V, 16, 4)]
PW = 412

for label, px, py, ph, hdata, vdata, vlim, vstep in PANELS:
    add_box(px, py, PW, ph, '#e5e5e5', '#555555', 1.1, z=-3)
    add_box(px + 3, py + 9, PW - 6, 261, '#ebebeb', z=-2)
    add_box(px + 3, py + 313, PW - 6, 267, '#ebebeb', z=-2)
    fig.text((px + 9) / W, 1 - (py + 7) / H, label, ha='left', va='top', fontsize=9,
             family=SERIF, color='#222222')
    ax1 = fig.add_axes(frect(px + 41, py + 23, 356, 206))
    draw_chart(ax1, FH, hdata, 16, 4, 'Horizontale Polarisation', 0.048 if label == 'a)' else 0.064)
    ax2 = fig.add_axes(frect(px + 41, py + 328, 356, 207))
    draw_chart(ax2, FV, vdata, vlim, vstep, 'Vertikale Polarisation', 0.028 if vlim == 6 else 0.067)


def text_width(s, fp):
    t = fig.text(0, 0, s, fontproperties=fp)
    w = t.get_window_extent(renderer).width
    t.remove()
    return w


def sized(fp, size):
    q = fp.copy()
    q.set_size(size)
    return q


def text_line(x0, x1, y, s, justify, fp):
    kw = dict(fontproperties=fp, ha='left', va='baseline', color='#1c1c1c')
    words = s.split(' ')
    if not justify or len(words) < 2:
        fig.text(x0 / W, 1 - y / H, s, **kw)
        return
    objs = [fig.text(0, 1 - y / H, wd, **kw) for wd in words]
    widths = [o.get_window_extent(renderer).width for o in objs]
    gap = (x1 - x0 - sum(widths)) / (len(words) - 1)
    x = x0
    for o, wd in zip(objs, widths):
        o.set_x(x / W)
        x += wd + gap


# caption and heading in a condensed bold face, sized to the widths on the page
COND = condensed_bold()
probe = sized(COND, 10)
cap_fp = sized(COND, 10 * 546 / text_width(CAPTION[0], probe))
for i, s in enumerate(CAPTION):
    text_line(451, 1000, 1337 + 27 * i, s, False, cap_fp)
head_fp = sized(COND, 10 * 370 / text_width(HEADING[1], probe))
for i, s in enumerate(HEADING):
    text_line(451, 870, 1461 + 27 * i, s, False, head_fp)

# body text: serif, size chosen so the widest justified line just fills the column
serif10 = FontProperties(family=SERIF, size=10)
widest = max(text_width(s, serif10) for s in LEFT_COL)
body_fp = FontProperties(family=SERIF, size=10 * 410 / widest)
PITCH = 30.5
BASE = 1458
for i, s in enumerate(LEFT_COL):
    text_line(451, 865, BASE + PITCH * (i + 4), s, True, body_fp)
for k, s, kind in RIGHT_COL:
    y = BASE + PITCH * k
    if kind == 'J':
        text_line(899, 1312, y, s, True, body_fp)
    elif kind == 'L':
        text_line(899, 1312, y, s, False, body_fp)
    elif kind == 'I':
        text_line(931, 1312, y, s, True, body_fp)
    else:
        if kind == 'B':
            fig.text(900 / W, 1 - y / H, '\u25B6', fontsize=11, family='DejaVu Sans',
                     ha='left', va='baseline', color='#1c1c1c')
        text_line(931, 1312, y, s, False, body_fp)

fig.savefig('out.png', dpi=100, facecolor='white')
